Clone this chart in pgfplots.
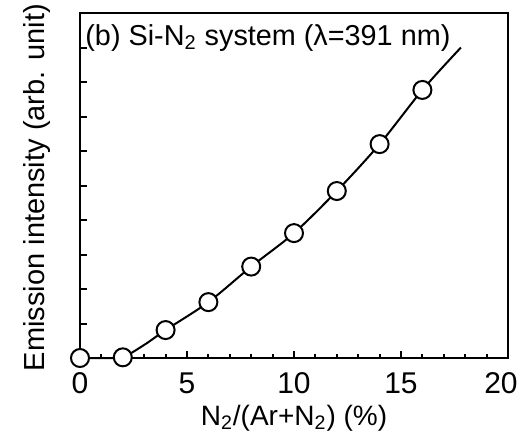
\documentclass[border=0pt]{standalone}
\usepackage{fontspec}
\setmainfont{Liberation Sans}
\usepackage{pgfplots}
\pgfplotsset{compat=1.18}
\begin{document}
\fontsize{14}{17}\selectfont
\begin{tikzpicture}
\begin{axis}[
  name=main,
  scale only axis,
  width=214pt,
  height=172.5pt,
  xmin=0, xmax=20,
  ymin=0, ymax=10,
  xtick={0,5,...,20},
  xticklabels={0,5,10,15,{\hspace*{-7pt}20}},
  minor x tick num=4,
  ytick={0,1,...,10},
  yticklabels={},
  tick align=inside,
  xtick pos=bottom,
  ytick pos=left,
  major tick length=3.5pt,
  minor tick length=2pt,
  axis line style={line width=1.2pt},
  every tick/.style={line width=1pt, black},
  /pgf/number format/assume math mode=true,
  xticklabel style={font=\fontsize{15}{17}\selectfont, anchor=base, yshift=-17.5pt},
  xlabel={N\textsubscript{2}/(Ar+N\textsubscript{2}) (\%)},
  ylabel={Emission intensity (arb. unit)},
  xlabel style={at={(axis description cs:0.5,-0.195)}, anchor=base},
  ylabel style={font=\fontsize{14.5}{17}\selectfont,
    at={(axis description cs:-0.0818,0.494)}, anchor=base},
  clip=false,
]
% fitted curve
\addplot[black, line width=1pt, smooth, tension=0.5] coordinates {
  (0,0) (1,0.0) (2,0.03) (3,0.38) (4,0.81) (6,1.62) (8,2.65) (10,3.62)
  (12,4.84) (14,6.20) (16,7.77) (17.8,9.0)
};
% measured points
\addplot[only marks, mark=*, mark size=4.5pt,
  mark options={fill=white, draw=black, line width=1pt}] coordinates {
  (0,0) (2,0.02) (4,0.81) (6,1.62) (8,2.65) (10,3.62)
  (12,4.84) (14,6.20) (16,7.77)
};
\node[anchor=base west, inner sep=0pt, font=\fontsize{14.4}{17}\selectfont]
  at ([shift={(2.5pt,-16pt)}]rel axis cs:0,1)
  {(b) Si-N\textsubscript{2} system (λ=391 nm)};
\end{axis}
\pgfresetboundingbox
\path ([shift={(-40pt,-44pt)}]main.south west) rectangle ([shift={(8pt,6.5pt)}]main.north east);
\end{tikzpicture}
\end{document}
